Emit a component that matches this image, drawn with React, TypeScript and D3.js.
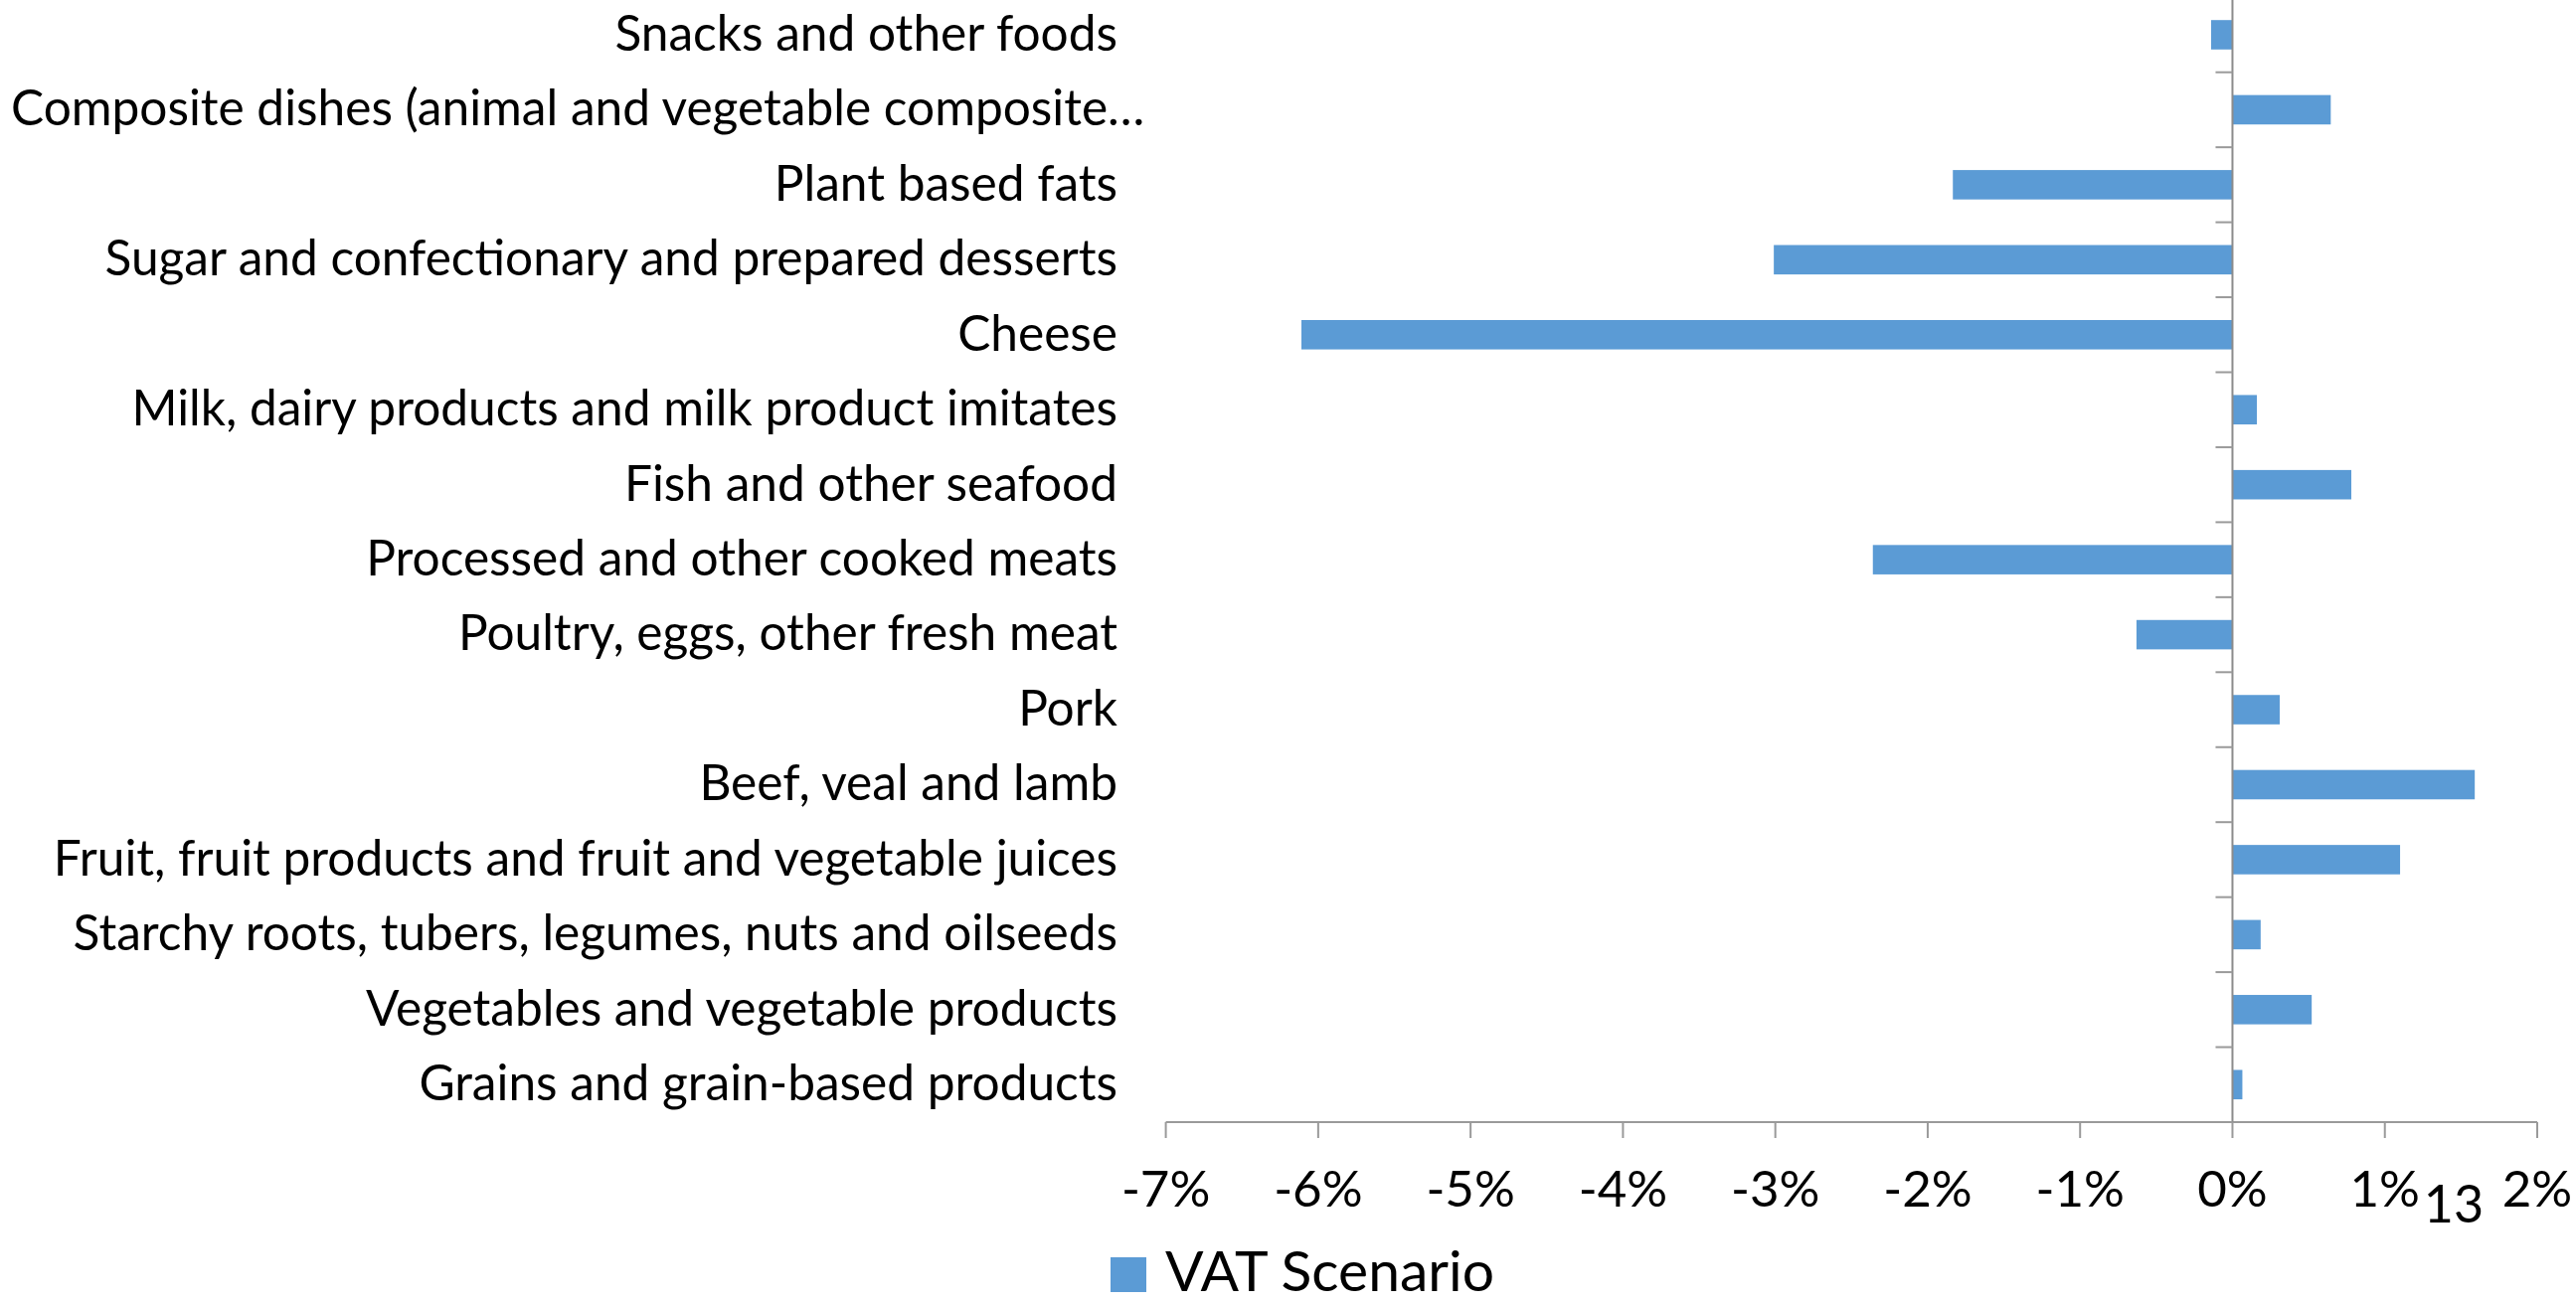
import React from "react";
import * as d3 from "d3";

const categories: string[] = [
  "Grains and grain-based products",
  "Vegetables and vegetable products",
  "Starchy roots, tubers, legumes, nuts and oilseeds",
  "Fruit, fruit products and fruit and vegetable juices",
  "Beef, veal and lamb",
  "Pork",
  "Poultry, eggs, other fresh meat",
  "Processed and other cooked meats",
  "Fish and other seafood",
  "Milk, dairy products and milk product imitates",
  "Cheese",
  "Sugar and confectionary and prepared desserts",
  "Plant based fats",
  "Composite dishes (animal and vegetable composite…",
  "Snacks and other foods",
];

// VAT Scenario, percent change
const vatScenario: number[] = [
  0.065, 0.52, 0.185, 1.1, 1.59, 0.31, -0.63, -2.36, 0.78, 0.16, -6.11, -3.01,
  -1.835, 0.645, -0.14,
];

const xTicks: number[] = [-7, -6, -5, -4, -3, -2, -1, 0, 1, 2];
const seriesName = "VAT Scenario";
const pageNumber = "13";

const W = 2591;
const H = 1312;
const FONT = "Lato, 'Open Sans', sans-serif";
const BAR = "#5B9BD5";
const AXIS = "#9A9A9A";

export default function App() {
  const plotLeft = 1172.6;
  const plotRight = 2552;
  const plotTop = -2.74;
  const plotBottom = 1129;

  const x = d3.scaleLinear().domain([-7, 2]).range([plotLeft, plotRight]);
  const y = d3
    .scaleBand<string>()
    .domain([...categories].reverse())
    .range([plotTop, plotBottom])
    .paddingInner(0.608)
    .paddingOuter(0.304);
  const step = y.step();
  const boundaries = d3.range(categories.length + 1).map((i) => plotTop + i * step);
  const x0 = x(0);
  const labelRight = 1124;

  return (
    <svg
      width={W}
      height={H}
      style={{ position: "absolute", left: 0, top: 0, background: "#fff" }}
      fontFamily={FONT}
    >
      <rect x={0} y={0} width={W} height={H} fill="#fff" />
      {/* bars */}
      {categories.map((c, i) => {
        const v = vatScenario[i];
        const bx = Math.min(x(v), x0);
        const bw = Math.abs(x(v) - x0);
        return (
          <rect
            key={c}
            x={bx}
            y={y(c)}
            width={bw}
            height={y.bandwidth()}
            fill={BAR}
          />
        );
      })}
      {/* horizontal axis */}
      <line x1={plotLeft} x2={plotRight} y1={plotBottom} y2={plotBottom} stroke={AXIS} strokeWidth={2} />
      {xTicks.map((t) => (
        <g key={t}>
          <line x1={x(t)} x2={x(t)} y1={plotBottom} y2={plotBottom + 16} stroke={AXIS} strokeWidth={2} />
          <text x={x(t)} y={1214} textAnchor="middle" fontSize={51} fill="#000">
            {`${t}%`}
          </text>
        </g>
      ))}
      {/* vertical category axis at zero */}
      <line x1={x0} x2={x0} y1={plotTop} y2={plotBottom} stroke="#8C8C8C" strokeWidth={2} />
      {boundaries.map((b, i) => (
        <line key={i} x1={x0 - 17} x2={x0} y1={b} y2={b} stroke={AXIS} strokeWidth={2} />
      ))}
      {/* category labels */}
      {categories.map((c) => {
        const cy = (y(c) as number) + y.bandwidth() / 2;
        const truncated = c.endsWith("…");
        return (
          <text
            key={c}
            x={truncated ? 11 : labelRight}
            y={cy}
            dy="0.32em"
            textAnchor={truncated ? "start" : "end"}
            fontSize={49.6}
            fill="#000"
          >
            {c}
          </text>
        );
      })}
      {/* page number overlay */}
      <text x={2468} y={1230} textAnchor="middle" fontSize={52} fill="#000">
        {pageNumber}
      </text>
      {/* legend */}
      <rect x={1117} y={1265} width={36} height={35} fill={BAR} />
      <text x={1172} y={1299} fontSize={57} fill="#000">
        {seriesName}
      </text>
    </svg>
  );
}
